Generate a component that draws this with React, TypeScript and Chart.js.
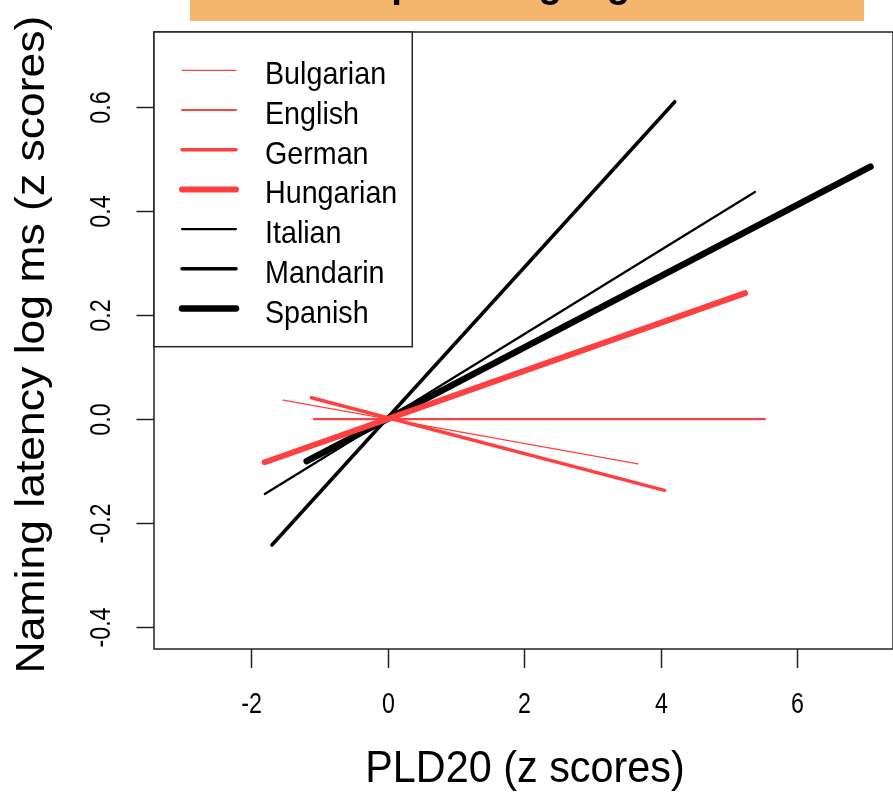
import React, { useEffect, useRef } from "react";
import { Chart, registerables } from "chart.js";

Chart.register(...registerables);

// ---- data ----
const languages = ["Bulgarian", "English", "German", "Hungarian", "Italian", "Mandarin", "Spanish"];
const lineColors = ["#FF4040", "#FF4040", "#FF4040", "#FF4040", "#000000", "#000000", "#000000"];
const lineWidths = [1.3, 2.2, 3.5, 6, 2.2, 3.5, 6.5];
const startX = [-1.536, -1.085, -1.12, -1.805, -1.805, -1.7, -1.19];
const startY = [0.0365, 0, 0.041, -0.083, -0.144, -0.242, -0.081];
const endX = [3.67, 5.53, 4.06, 5.24, 5.385, 4.21, 7.08];
const endY = [-0.086, 0, -0.137, 0.242, 0.4365, 0.61, 0.485];
const xTicks = [-2, 0, 2, 4, 6];
const yTicks = [-0.4, -0.2, 0, 0.2, 0.4, 0.6];
const xTickLabels = ["-2", "0", "2", "4", "6"];
const yTickLabels = ["-0.4", "-0.2", "0.0", "0.2", "0.4", "0.6"];
const xRange = [-3.43, 7.41];
const yRange = [-0.442, 0.744];
const xTitle = "PLD20 (z scores)";
const yTitle = "Naming latency log ms (z scores)";
const bannerText = "Compare languages";

const FONT = "'Liberation Sans', Arial, sans-serif";

function drawText(
  ctx: CanvasRenderingContext2D,
  text: string,
  x: number,
  y: number,
  along: number,
  cross: number,
  rotate: boolean
) {
  ctx.save();
  ctx.translate(x, y);
  if (rotate) ctx.rotate(-Math.PI / 2);
  ctx.scale(along, cross);
  ctx.fillText(text, 0, 0);
  ctx.restore();
}

const rPlot = {
  id: "rPlot",
  afterDraw(chart: any) {
    const ctx = chart.ctx as CanvasRenderingContext2D;
    const { left, right, top, bottom } = chart.chartArea;
    const xs = chart.scales.x;
    const ys = chart.scales.y;
    ctx.save();

    // banner
    ctx.fillStyle = "#F4B56D";
    ctx.fillRect(190, 0, 674, 21);
    ctx.fillStyle = "#000";
    ctx.font = `bold 40px ${FONT}`;
    ctx.textAlign = "left";
    ctx.textBaseline = "alphabetic";
    drawText(ctx, bannerText, 306, -3, 0.96, 1, false);

    // box
    ctx.strokeStyle = "#222";
    ctx.lineWidth = 1.5;
    ctx.strokeRect(left, top, right - left, bottom - top);

    // x ticks
    ctx.fillStyle = "#000";
    ctx.font = `29px ${FONT}`;
    ctx.textAlign = "center";
    ctx.textBaseline = "middle";
    xTicks.forEach((v, i) => {
      const px = Math.round(xs.getPixelForValue(v)) + 0.5;
      ctx.beginPath();
      ctx.moveTo(px, bottom);
      ctx.lineTo(px, bottom + 19);
      ctx.stroke();
      drawText(ctx, xTickLabels[i], px, 705, 0.8, 1, false);
    });

    // y ticks
    yTicks.forEach((v, i) => {
      const py = Math.round(ys.getPixelForValue(v)) + 0.5;
      ctx.beginPath();
      ctx.moveTo(left, py);
      ctx.lineTo(left - 17.5, py);
      ctx.stroke();
      drawText(ctx, yTickLabels[i], 102, py, 0.8, 1, true);
    });

    // titles
    ctx.font = `44.5px ${FONT}`;
    drawText(ctx, xTitle, (left + right) / 2 + 1.5, 770, 0.93, 1, false);
    drawText(ctx, yTitle, 33, (top + bottom) / 2 + 4, 1, 0.93, true);

    // legend
    ctx.fillStyle = "#fff";
    ctx.fillRect(left, top, 412.3 - left, 346.7 - top);
    ctx.strokeStyle = "#222";
    ctx.lineWidth = 1.5;
    ctx.strokeRect(left, top, 412.3 - left, 346.7 - top);
    ctx.font = `30.5px ${FONT}`;
    ctx.textAlign = "left";
    ctx.textBaseline = "alphabetic";
    chart.data.datasets.forEach((ds: any, i: number) => {
      const ry = 70.3 + i * 39.7;
      ctx.strokeStyle = ds.borderColor;
      ctx.lineWidth = ds.borderWidth;
      ctx.lineCap = "round";
      ctx.beginPath();
      ctx.moveTo(182, ry);
      ctx.lineTo(236, ry);
      ctx.stroke();
      ctx.fillStyle = "#000";
      drawText(ctx, ds.label, 265, ry + 14, 0.94, 1, false);
    });

    ctx.restore();
  },
};

export default function App() {
  const ref = useRef<HTMLCanvasElement>(null);
  useEffect(() => {
    if (!ref.current) return;
    const chart = new Chart(ref.current, {
      type: "scatter",
      data: {
        datasets: languages.map((name, i) => ({
          label: name,
          data: [
            { x: startX[i], y: startY[i] },
            { x: endX[i], y: endY[i] },
          ],
          showLine: true,
          borderColor: lineColors[i],
          backgroundColor: lineColors[i],
          borderWidth: lineWidths[i],
          borderCapStyle: "round",
          pointRadius: 0,
          pointHoverRadius: 0,
        })),
      },
      options: {
        responsive: false,
        animation: false,
        devicePixelRatio: 1,
        events: [],
        layout: { padding: { left: 154, top: 32, right: 7, bottom: 145 } },
        plugins: { legend: { display: false }, tooltip: { enabled: false }, title: { display: false } },
        scales: {
          x: { type: "linear", min: xRange[0], max: xRange[1], display: false },
          y: { type: "linear", min: yRange[0], max: yRange[1], display: false },
        },
      } as any,
      plugins: [rPlot],
    });
    return () => chart.destroy();
  }, []);

  return (
    <div
      style={{
        position: "fixed",
        left: 0,
        top: 0,
        width: 893,
        height: 794,
        overflow: "hidden",
        background: "#fff",
      }}
    >
      <canvas ref={ref} width={900} height={794} style={{ width: 900, height: 794, display: "block" }} />
    </div>
  );
}
